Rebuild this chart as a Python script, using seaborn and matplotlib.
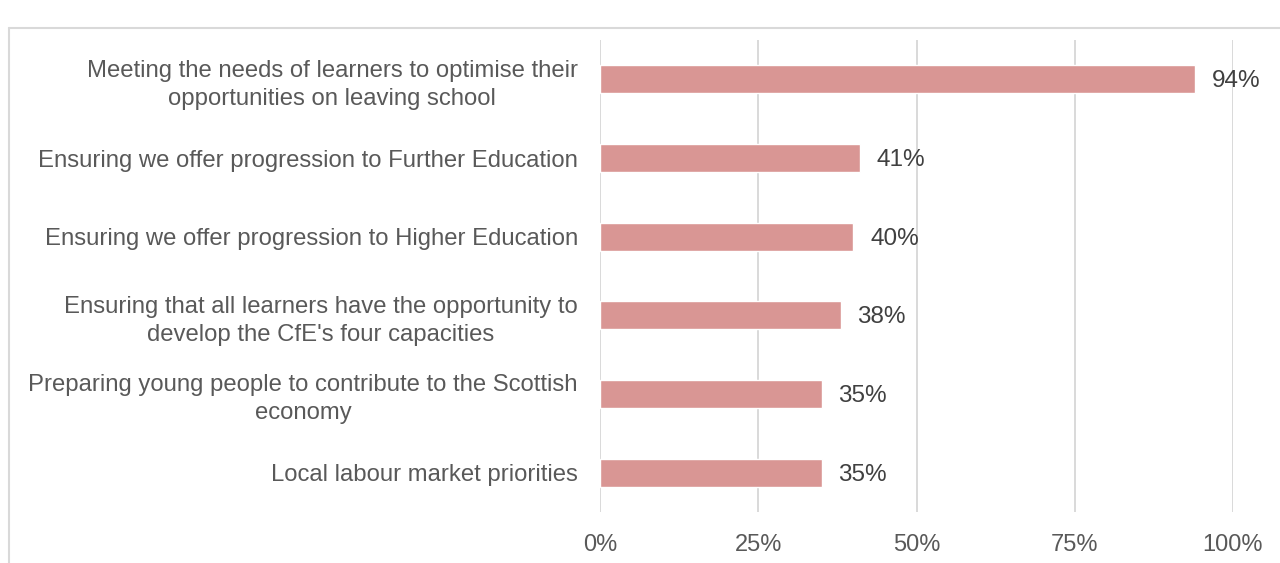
import matplotlib
matplotlib.use("Agg")
import matplotlib.pyplot as plt
import seaborn as sns
import pandas as pd
from matplotlib.lines import Line2D

categories = [
    "Meeting the needs of learners to optimise their\nopportunities on leaving school",
    "Ensuring we offer progression to Further Education",
    "Ensuring we offer progression to Higher Education",
    "Ensuring that all learners have the opportunity to\ndevelop the CfE's four capacities",
    "Preparing young people to contribute to the Scottish\neconomy",
    "Local labour market priorities",
]
values = [94, 41, 40, 38, 35, 35]
x_ticks = [0, 25, 50, 75, 100]
x_tick_labels = ["0%", "25%", "50%", "75%", "100%"]

df = pd.DataFrame({"category": categories, "pct": values})

sns.set_theme(style="white")
plt.rcParams["font.family"] = ["Liberation Sans", "DejaVu Sans"]

fig = plt.figure(figsize=(12.8, 5.63), dpi=100)
ax = fig.add_axes([600 / 1280, 1 - 512 / 563, 633 / 1280, 472 / 563])

sns.barplot(data=df, x="pct", y="category", orient="h", color="#D99694",
            saturation=1, width=0.355, ax=ax, zorder=3)

ax.set_xlim(0, 100)
ax.set_ylim(len(categories) - 0.5, -0.5)
ax.set_xticks(x_ticks)
ax.set_xticklabels(x_tick_labels)
ax.grid(axis="x", color="#D9D9D9", linewidth=1.4, zorder=0)
ax.grid(axis="y", visible=False)
for s in ax.spines.values():
    s.set_visible(False)
ax.set_xlabel("")
ax.set_ylabel("")
ax.tick_params(axis="x", length=0, pad=16, labelsize=17, labelcolor="#595959")
ax.tick_params(axis="y", length=0, pad=16, labelsize=17.2, labelcolor="#595959")
for lbl in ax.get_yticklabels():
    lbl.set_multialignment("center")
    lbl.set_linespacing(1.35)

for bar, v in zip(ax.patches, values):
    y = bar.get_y() + bar.get_height() / 2
    ax.annotate(f"{v}%", xy=(bar.get_width(), y), xytext=(17, -2),
                textcoords="offset pixels",
                va="center", ha="left", fontsize=17.5, color="#404040")

# chart frame
fig.add_artist(Line2D([9 / 1280, 9 / 1280], [0, 1 - 28 / 563],
                      transform=fig.transFigure, color="#D9D9D9", linewidth=1.5))
fig.add_artist(Line2D([9 / 1280, 1], [1 - 28 / 563, 1 - 28 / 563],
                      transform=fig.transFigure, color="#D9D9D9", linewidth=1.5))

fig.savefig("out.png", dpi=100)
